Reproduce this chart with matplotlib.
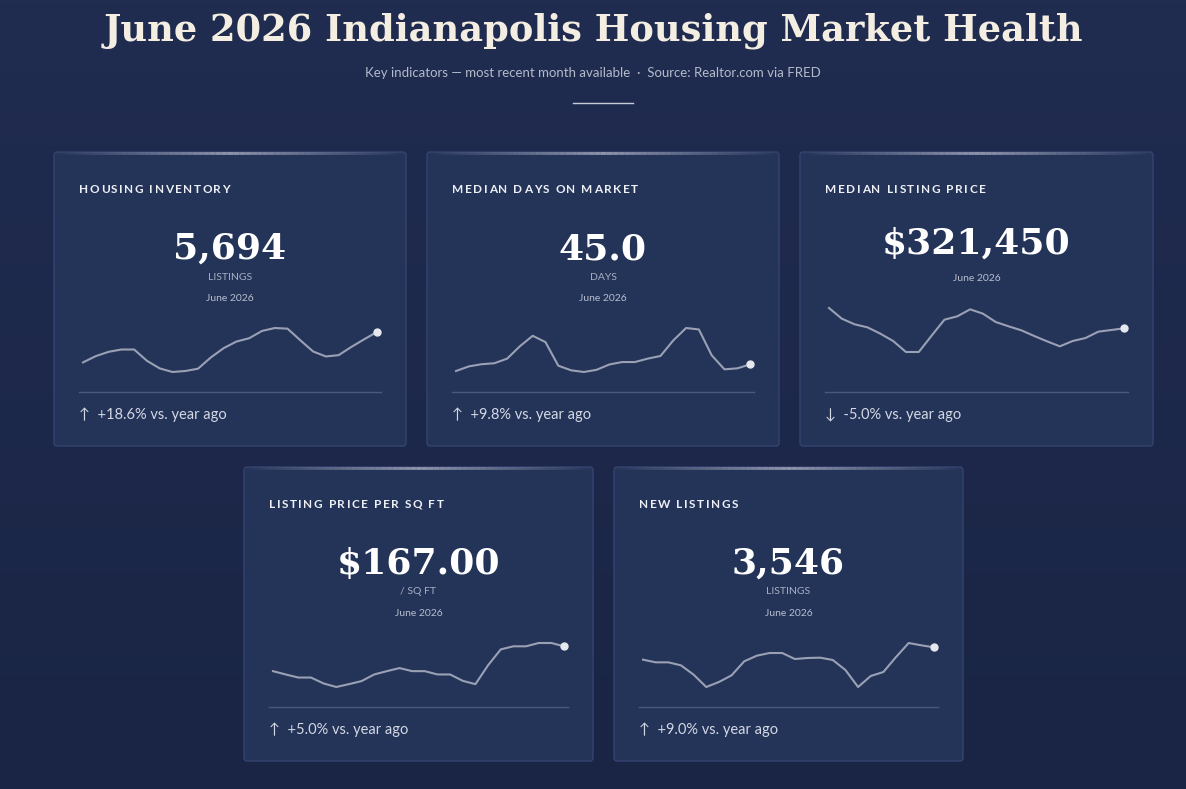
import numpy as np
import matplotlib
matplotlib.use("Agg")
import matplotlib.pyplot as plt
from matplotlib.patches import FancyBboxPatch
from matplotlib.collections import LineCollection

W, H = 1186, 789
SANS = ["Lato", "DejaVu Sans"]

titles = ["HOUSING INVENTORY", "MEDIAN DAYS ON MARKET", "MEDIAN LISTING PRICE",
          "LISTING PRICE PER SQ FT", "NEW LISTINGS"]
big_values = ["5,694", "45.0", "$321,450", "$167.00", "3,546"]
units = ["LISTINGS", "DAYS", "", "/ SQ FT", "LISTINGS"]
dates = ["June 2026"] * 5
changes = ["↑  +18.6% vs. year ago", "↑  +9.8% vs. year ago", "↓  -5.0% vs. year ago",
           "↑  +5.0% vs. year ago", "↑  +9.0% vs. year ago"]

inventory = [4710, 4913, 5052, 5127, 5127, 4763, 4517, 4400, 4432, 4507, 4870, 5170,
             5384, 5491, 5726, 5822, 5801, 5426, 5063, 4902, 4945, 5212, 5458, 5694]
days = [42.3, 44.2, 45.1, 45.5, 47.4, 52.5, 56.8, 54.2, 44.5, 42.6, 41.9, 42.8,
        45.0, 46.0, 46.0, 47.4, 48.5, 54.9, 60.0, 59.4, 48.8, 43.0, 43.4, 45.0]
price = [336700, 328700, 324450, 322200, 317450, 311950, 303700, 303700, 315950, 327950,
         330450, 335700, 332450, 326200, 322950, 319950, 315700, 311700, 307950, 311950,
         314200, 318950, 320200, 321450]
ppsf = [156.5, 155.1, 153.8, 153.8, 151.3, 149.8, 151.0, 152.3, 155.1, 156.5, 157.8, 156.5,
        156.5, 155.1, 155.1, 152.4, 151.0, 159.0, 165.7, 167.0, 167.0, 168.4, 168.4, 167.0]
new_listings = [3176, 3096, 3096, 3006, 2726, 2356, 2506, 2706, 3126, 3296, 3376, 3376,
                3196, 3226, 3236, 3166, 2866, 2356, 2686, 2806, 3256, 3676, 3606, 3546]
series = [inventory, days, price, ppsf, new_listings]

cards = [(54, 152, 352, 294), (427, 152, 352, 294), (800, 152, 353, 294),
         (244, 467, 349, 294), (614, 467, 349, 294)]

fig = plt.figure(figsize=(W / 100, H / 100), dpi=100)
renderer = fig.canvas.get_renderer()

bg = fig.add_axes([0, 0, 1, 1])
grad = np.linspace(0, 1, 256).reshape(-1, 1)
c_top = np.array([0x20, 0x2c, 0x50]) / 255
c_bot = np.array([0x1a, 0x25, 0x45]) / 255
img = c_top[None, None, :] * (1 - grad[:, :, None]) + c_bot[None, None, :] * grad[:, :, None]
bg.imshow(img, aspect="auto", extent=[0, W, H, 0])
bg.set_xlim(0, W)
bg.set_ylim(H, 0)
bg.axis("off")

def T(x, y, s, **kw):
    return bg.text(x, y, s, **kw)

def spaced(x, y, s, spacing=1.5, **kw):
    for ch in s:
        t = T(x, y, ch, ha="left", va="center", **kw)
        if ch == " ":
            w = 3.0
        else:
            w = t.get_window_extent(renderer=renderer).width
        x += w + spacing

T(W / 2, 31, "June 2026 Indianapolis Housing Market Health", ha="center", va="center",
  fontsize=26.5, fontweight="bold", family="DejaVu Serif", color="#f4ede2")
T(W / 2, 73, "Key indicators — most recent month available  ·  Source: Realtor.com via FRED",
  ha="center", va="center", fontsize=9.5, family=SANS, color="#b3bacb")
bg.plot([573, 633], [103, 103], color="#c8ccd8", lw=1)

for i, (x0, y0, w, h) in enumerate(cards):
    box = FancyBboxPatch((x0, y0), w, h, boxstyle="round,pad=0,rounding_size=3",
                         facecolor="#243358", edgecolor="#354470", lw=1, zorder=2)
    bg.add_patch(box)
    xs = np.linspace(x0 + 2, x0 + w - 2, 60)
    segs = [[(xs[k], y0 + 1), (xs[k + 1], y0 + 1)] for k in range(len(xs) - 1)]
    mid = (xs[:-1] + xs[1:]) / 2
    a = np.clip(1 - np.abs((mid - (x0 + w / 2)) / (w / 2)), 0, 1) * 0.6
    cols = [(0.85, 0.85, 0.9, ai) for ai in a]
    bg.add_collection(LineCollection(segs, colors=cols, lw=2, zorder=3))

    spaced(x0 + 25, y0 + 37, titles[i], fontsize=8.5, fontweight="bold",
           family=SANS, color="#eef0f5", zorder=4)
    has_unit = units[i] != ""
    cx = x0 + w / 2
    num_y = y0 + 97 if has_unit else y0 + 92
    T(cx, num_y, big_values[i], ha="center", va="center", fontsize=26, fontweight="bold",
      family="DejaVu Serif", color="white", zorder=4)
    if has_unit:
        T(cx, y0 + 125, units[i], ha="center", va="center", fontsize=7.5, family=SANS,
          color="#a9b0c3", zorder=4)
        T(cx, y0 + 146, dates[i], ha="center", va="center", fontsize=7.5, family=SANS,
          color="#b8bece", zorder=4)
        top, bot = y0 + 176, y0 + 220
    else:
        T(cx, y0 + 126, dates[i], ha="center", va="center", fontsize=7.5, family=SANS,
          color="#b8bece", zorder=4)
        top, bot = y0 + 156, y0 + 200
    bg.plot([x0 + 25, x0 + w - 25], [y0 + 240, y0 + 240], color="#4a5780", lw=1, zorder=4)
    T(x0 + 25, y0 + 263, changes[i], ha="left", va="center", fontsize=10.5,
      family=SANS, color="#d3d8e4", zorder=4)

    lx0, lx1 = x0 + 29, x0 + w - 29
    ax = fig.add_axes([lx0 / W, 1 - bot / H, (lx1 - lx0) / W, (bot - top) / H])
    ax.patch.set_alpha(0)
    v = series[i]
    ax.plot(range(len(v)), v, color="#9aa1b5", lw=1.5, solid_joinstyle="round")
    ax.plot([len(v) - 1], [v[-1]], "o", color="#e6e8ee", ms=5, zorder=5)
    ax.set_xlim(0, len(v) - 1)
    ax.set_ylim(min(v), max(v))
    ax.axis("off")
    for s in ax.lines:
        s.set_clip_on(False)

fig.savefig("out.png", dpi=100)
